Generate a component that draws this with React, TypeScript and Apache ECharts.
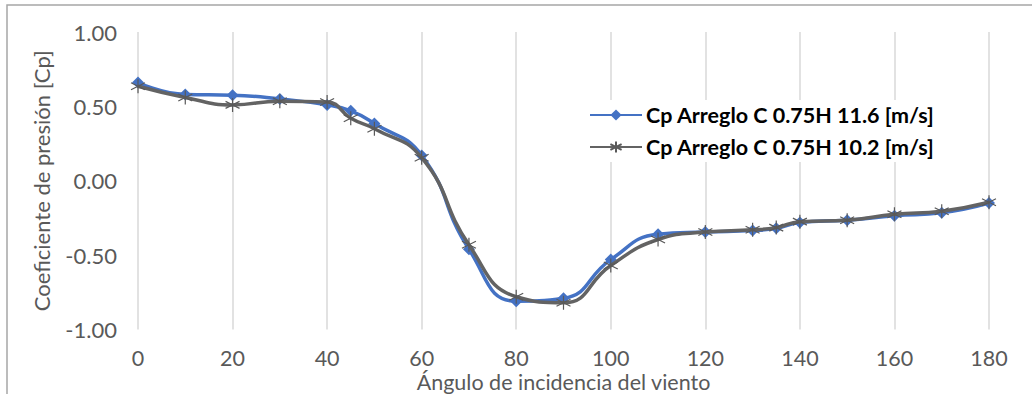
import React, { useEffect, useRef } from "react";
import * as echarts from "echarts";

const angles = [0, 10, 20, 30, 40, 45, 50, 60, 70, 80, 90, 100, 110, 120, 130, 135, 140, 150, 160, 170, 180];
const cp116 = [0.66, 0.58, 0.575, 0.55, 0.51, 0.47, 0.385, 0.17, -0.46, -0.81, -0.79, -0.53, -0.36, -0.345, -0.335, -0.32, -0.28, -0.265, -0.235, -0.215, -0.15];
const cp102 = [0.635, 0.56, 0.51, 0.535, 0.53, 0.42, 0.35, 0.155, -0.43, -0.78, -0.82, -0.57, -0.395, -0.345, -0.33, -0.315, -0.275, -0.265, -0.225, -0.205, -0.145];
const seriesNames = ["Cp Arreglo C 0.75H 11.6 [m/s]", "Cp Arreglo C 0.75H 10.2 [m/s]"];
const xName = "Ángulo de incidencia del viento";
const yName = "Coeficiente de presión [Cp]";

const asterisk = "path://M0,-1L0,1M-0.87,-0.5L0.87,0.5M-0.87,0.5L0.87,-0.5";

export default function App() {
  const ref = useRef<HTMLDivElement>(null);
  useEffect(() => {
    const chart = echarts.init(ref.current!, null, { renderer: "svg" });
    const font = "Lato";
    chart.setOption({
      animation: false,
      backgroundColor: "#fff",
      grid: { left: 138, right: 43, top: 32, bottom: 64.5, containLabel: false, outerBoundsMode: "none" },
      graphic: [
        {
          type: "rect",
          shape: { x: 7, y: 5, width: 1040, height: 400 },
          style: { fill: "none", stroke: "#a6a6a6", lineWidth: 1.5 },
          silent: true,
        },
      ],
      xAxis: {
        type: "value",
        min: 0,
        max: 180,
        interval: 20,
        name: xName,
        nameLocation: "middle",
        nameGap: 41.5,
        nameMoveOverlap: false,
        nameTextStyle: { fontFamily: font, fontSize: 21.5, color: "#595959" },
        axisLine: { show: false },
        axisTick: { show: false },
        axisLabel: { fontFamily: font, fontSize: 21.5, color: "#595959", margin: 17.5 },
        splitLine: { show: true, lineStyle: { color: "#d9d9d9", width: 1.5 } },
      },
      yAxis: {
        type: "value",
        min: -1,
        max: 1,
        interval: 0.5,
        name: yName,
        nameLocation: "middle",
        nameGap: 86,
        nameMoveOverlap: false,
        nameTextStyle: { fontFamily: font, fontSize: 22, color: "#595959" },
        axisLine: { show: false },
        axisTick: { show: false },
        splitLine: { show: false },
        axisLabel: {
          fontFamily: font,
          fontSize: 22,
          color: "#595959",
          margin: 21,
          formatter: (v: number) => v.toFixed(2),
        },
      },
      legend: {
        orient: "vertical",
        left: 581,
        top: 100,
        padding: [4, 8, 4, 8],
        backgroundColor: "#fff",
        itemWidth: 52,
        itemHeight: 14,
        itemGap: 10,
        textStyle: { fontFamily: font, fontSize: 21.5, fontWeight: "bold", color: "#000", padding: [0, 0, 0, -1] },
        data: seriesNames,
      },
      series: [
        {
          name: seriesNames[0],
          type: "line",
          smooth: 0.5,
          data: angles.map((a, i) => [a, cp116[i]]),
          symbol: "diamond",
          symbolSize: 12,
          lineStyle: { color: "#4472C4", width: 3.5 },
          itemStyle: { color: "#4472C4" },
          z: 2,
        },
        {
          name: seriesNames[1],
          type: "line",
          smooth: 0.5,
          data: angles.map((a, i) => [a, cp102[i]]),
          symbol: asterisk,
          symbolSize: 14,
          lineStyle: { color: "#636363", width: 3.5 },
          itemStyle: { color: "none", borderColor: "#595959", borderWidth: 1.2 },
          z: 3,
        },
      ],
    });
    return () => chart.dispose();
  }, []);
  return <div ref={ref} style={{ position: "fixed", left: 0, top: 0, width: 1032, height: 394 }} />;
}
